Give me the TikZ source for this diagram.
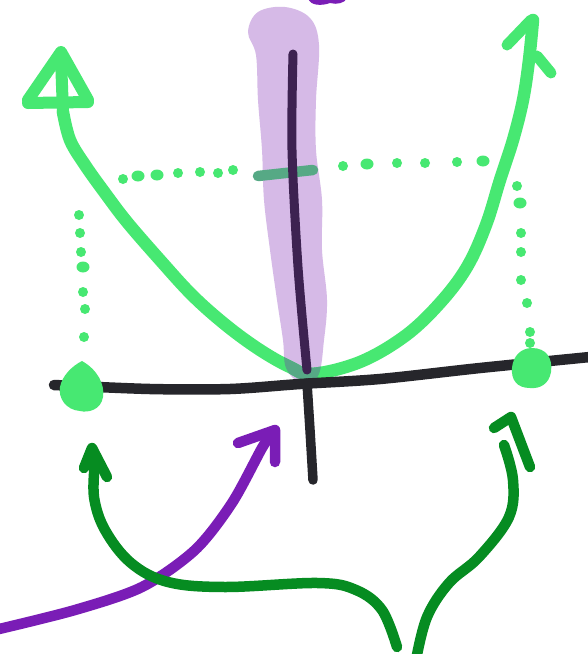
\documentclass[tikz,border=0pt]{standalone}
\usetikzlibrary{calc}
\definecolor{lav}{HTML}{D6BAE7}
\definecolor{dpur}{HTML}{3D2251}
\definecolor{lgreen}{HTML}{47E872}
\definecolor{dgreen}{HTML}{068C21}
\definecolor{pur}{HTML}{7A1DB6}
\definecolor{blk}{HTML}{26262B}
\definecolor{mix}{HTML}{56A985}
\tikzset{
  pen/.style={line width=10.5pt, line cap=round, line join=round},
  gpen/.style={line width=12.5pt, line cap=round, line join=round},
  dotg/.style={fill=lgreen, draw=none},
}
\begin{document}
\begin{tikzpicture}[x=1pt,y=-1pt]
\useasboundingbox (0,0) rectangle (587,654);
\fill[white] (0,0) rectangle (587,654);
% purple scrap at top edge
\fill[pur] (308,-2) .. controls (310,6) and (322,6) .. (330,3) .. controls (337,5) and (345,3) .. (347,-2) -- cycle;
% lavender highlight
\def\lavpath{plot[smooth cycle, tension=0.6] coordinates {(248,32) (256,55) (258,100) (262,150) (264,200) (270,250) (277,300) (283,340) (286,368) (300,382) (318,376) (324,340) (327,300) (322,250) (322,200) (316,150) (316,100) (319,45) (310,18) (285,7) (258,12)}}
\fill[lav] \lavpath;
% green parabola
\def\parab{plot[smooth, tension=0.6] coordinates {(63,112) (70,140) (85,165) (105,193) (127,222) (160,260) (193,296) (227,326) (260,350) (290,367) (312,374) (360,362) (405,336) (440,303) (467,267) (486,225) (500,180) (513,140) (523,100) (529,60) (533,20)}}
\draw[gpen, lgreen] \parab;
\begin{scope}
\clip \lavpath;
\draw[gpen, mix] \parab;
\end{scope}
% left arrowhead (A shape)
\draw[pen, lgreen, line width=12pt] (28,100) -- (61,52) -- (88,100);
\draw[pen, lgreen, line width=12pt] (28,103) -- (88,102);
\draw[pen, lgreen, line width=12pt] (61,58) -- (63,113);
% right arrowhead
\draw[pen, lgreen, line width=11pt] (507,45) -- (531,20);
\draw[pen, lgreen, line width=11pt] (537,56) -- (551,73);
% dotted lines
\foreach \p in {(123,179),(178,173),(200,172),(218,173),(233,170),
                (343,166),(397,163),(425,163),(457,162),
                (517,186),(521,233),(521,252),(521,280),(527,303),(530,332),(530,343),
                (79,215),(80,233),(81,252),(83,292),(85,309),(84,337)}
  \fill[dotg] \p circle (5);
\foreach \p in {(138,176),(157,175),(367,164),(483,161),(520,203),(83,267)}
  \fill[dotg] \p ellipse (6.5 and 5.5);
% translucent bar
\draw[pen, mix] (258,176) -- (313,170);
% dark purple line
\draw[pen, dpur, line width=9pt] plot[smooth] coordinates {(293,54) (292,150) (298,267) (307,370)};
% axes
\draw[pen, blk] plot[smooth] coordinates {(54,385) (150,389) (230,389) (300,384) (380,379) (480,368) (590,357)};
\draw[pen, blk, line width=9.5pt] (307,383) -- (310,430) -- (313,480);
% blobs
\fill[lgreen] (82,361) .. controls (98,370) and (105,385) .. (103,397) .. controls (101,410) and (88,413) .. (80,411) .. controls (66,410) and (58,398) .. (60,387) .. controls (62,376) and (72,366) .. (82,361) -- cycle;
\fill[lgreen] (532,348) .. controls (546,348) and (553,358) .. (551,372) .. controls (549,384) and (540,389) .. (530,388) .. controls (517,388) and (511,380) .. (512,368) .. controls (513,356) and (521,348) .. (532,348) -- cycle;
% purple arrow
\draw[pen, pur] plot[smooth] coordinates {(-5,630) (75,610) (142,587) (195,550) (232,503) (262,448) (273,432)};
\draw[pen, pur] (238,443) -- (275,430) -- (275,462);
% dark green arrows
\draw[pen, dgreen] plot[smooth, tension=0.6] coordinates {(95,463) (94,497) (105,530) (131,563) (168,582) (225,587) (318,583) (356,590) (382,610) (397,647)};
\draw[pen, dgreen] (84,468) -- (92,448) -- (107,477);
\draw[pen, dgreen] plot[smooth, tension=0.6] coordinates {(504,445) (513,480) (509,517) (479,557) (449,583) (427,617) (416,660)};
\draw[pen, dgreen] (494,428) -- (511,417) -- (530,467);
\end{tikzpicture}
\end{document}
